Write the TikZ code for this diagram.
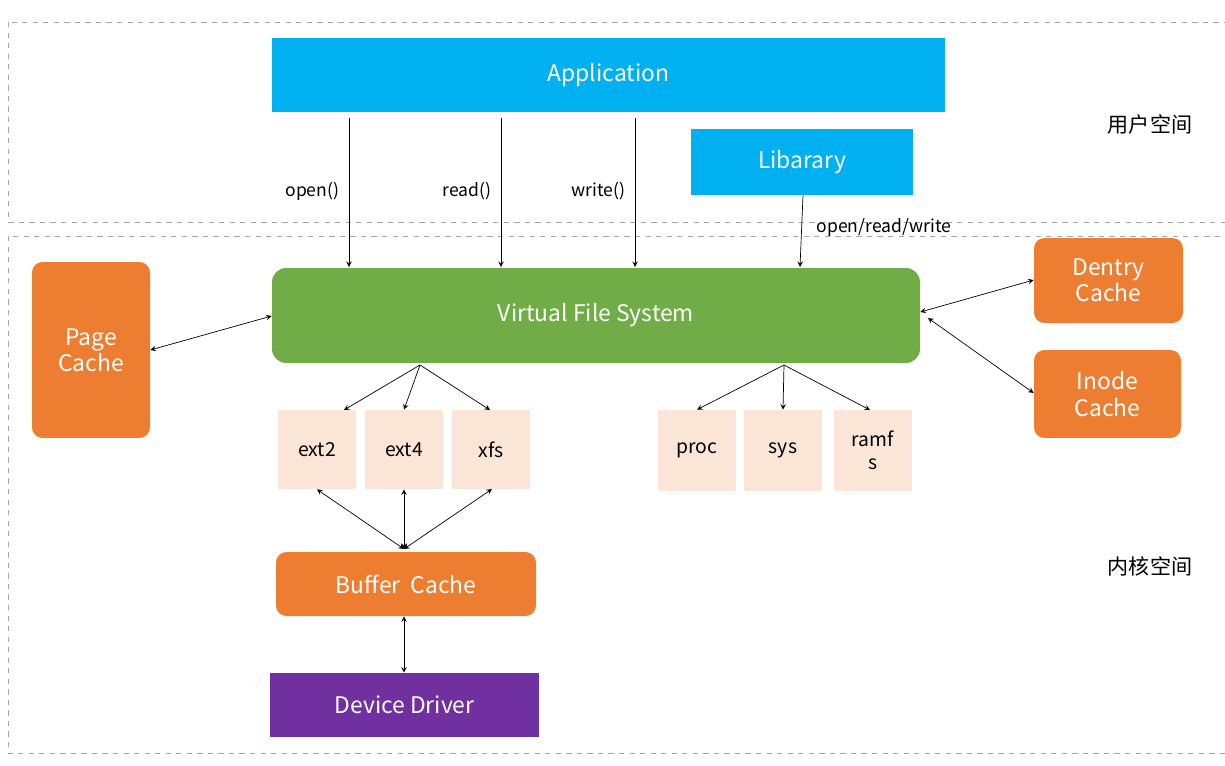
\documentclass[tikz,border=0pt]{standalone}
\usepackage{fontspec}
\setmainfont{Noto Sans CJK SC}
\definecolor{appblue}{RGB}{0,176,240}
\definecolor{vfsgreen}{RGB}{112,173,71}
\definecolor{cacheorange}{RGB}{237,125,49}
\definecolor{fspeach}{RGB}{251,229,214}
\definecolor{drvpurple}{RGB}{112,48,160}
\tikzset{
  box/.style={minimum width=#1*0.02cm, inner sep=0pt, font=\fontsize{13}{15}\selectfont},
  bluebox/.style={box=#1, fill=appblue, text=white, minimum height=1.4cm},
  cache/.style={box=#1, fill=cacheorange, text=white, rounded corners=6pt, align=center},
  fsbox/.style={box=78, fill=fspeach, minimum height=1.58cm, align=center, font=\fontsize{11}{13}\selectfont},
  arr/.style={-stealth, thin},
  both/.style={stealth-stealth, thin},
  lbl/.style={font=\fontsize{10}{12}\selectfont}
}
\begin{document}
\begin{tikzpicture}[x=0.02cm, y=-0.02cm]
\useasboundingbox (0,0) rectangle (1225,765);
% spaces
\draw[gray!70, dashed] (8,22) rectangle (1225,222);
\draw[gray!70, dashed] (8,236) rectangle (1225,753);
\node (user) at (1150,124) {\fontsize{12}{14}\selectfont 用户空间};
\node (kernel) at (1150,566) {\fontsize{12}{14}\selectfont 内核空间};
% user space
\node[bluebox=673, minimum height=1.48cm] (app) at (608.5,75) {Application};
\node[bluebox=222, minimum height=1.32cm] (lib) at (802,162) {Libarary};
% vfs
\node[box=648, fill=vfsgreen, text=white, minimum height=1.9cm, rounded corners=8pt] (vfs) at (596,315.5) {Virtual File System};
\node[cache=118, minimum height=3.52cm] (page) at (91,350) {Page\\Cache};
\node[cache=149, minimum height=1.7cm] (dentry) at (1108.5,280.5) {Dentry\\Cache};
\node[cache=147, minimum height=1.76cm] (inode) at (1107.5,394) {Inode\\Cache};
% file systems
\node[fsbox] (ext2) at (317,449.5) {ext2};
\node[fsbox] (ext4) at (404,449.5) {ext4};
\node[fsbox] (xfs) at (491,449.5) {xfs};
\node[fsbox, minimum height=1.62cm] (proc) at (697,450.5) {proc};
\node[fsbox, minimum height=1.62cm] (sys) at (783,450.5) {sys};
\node[fsbox, minimum height=1.62cm] (ramfs) at (873,450.5) {ramf\\s};
\node[box=260, fill=cacheorange, text=white, minimum height=1.28cm, rounded corners=6pt] (buffer) at (406,584) {Buffer\ \ Cache};
\node[box=269, fill=drvpurple, text=white, minimum height=1.28cm] (driver) at (404.5,705) {Device Driver};
% calls
\foreach \x/\t in {349/open(), 501/read(), 635/write()}
  \draw[arr] (\x,118) -- node[lbl, pos=0.49, left=2pt] {\t} (\x,267);
\draw[arr] (lib.south -| 803,0) -- node[lbl, pos=0.45, right=5pt] {open/read/write} (800,267);
% caches
\draw[both] (page.east |- 0,350) -- (vfs.west |- 0,316);
\draw[both] (vfs.east |- 0,312) -- (dentry.west |- 0,280);
\draw[both] (928,318) -- (inode.west |- 0,393);
% file systems
\coordinate (fsa) at (420,365);
\coordinate (fsb) at (784,365);
\draw[arr] (fsa) -- (344,410);
\draw[arr] (fsa) -- (ext4.north);
\draw[arr] (fsa) -- (490,410);
\draw[arr] (fsb) -- (proc.north);
\draw[arr] (fsb) -- (sys.north);
\draw[arr] (fsb) -- (870,410);
\coordinate (bc) at (404,549);
\draw[both] (ext2.south) -- (bc);
\draw[both] (ext4.south) -- (bc);
\draw[both] (492,489) -- (bc);
\draw[both] (buffer.south -| 404,0) -- (driver.north -| 404,0);
\end{tikzpicture}
\end{document}
